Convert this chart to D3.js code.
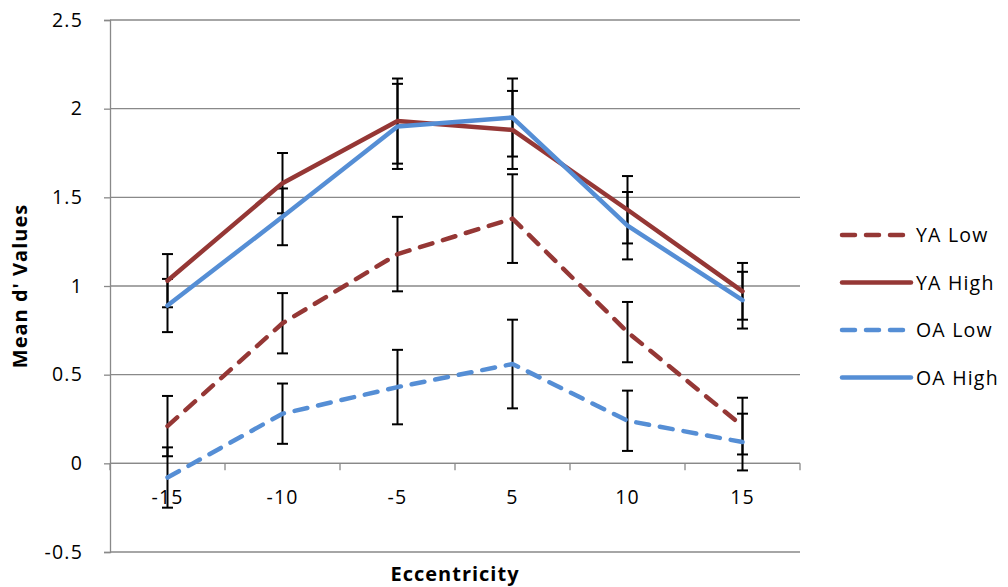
<!DOCTYPE html>
<html><head><meta charset="utf-8">
<script src="https://cdn.jsdelivr.net/npm/d3@7"></script>
<style>body{margin:0;background:#fff;} text{font-family:"Open Sans",sans-serif;}</style>
</head><body><svg id="c" width="1008" height="587"></svg>
<script>
const categories = ["-15","-10","-5","5","10","15"];
const yaLow  = [0.21, 0.79, 1.18, 1.38, 0.74, 0.21];
const yaHigh = [1.03, 1.58, 1.93, 1.88, 1.43, 0.97];
const oaLow  = [-0.08, 0.28, 0.43, 0.56, 0.24, 0.12];
const oaHigh = [0.89, 1.39, 1.90, 1.95, 1.34, 0.92];
const yaLowErr  = [0.17, 0.17, 0.21, 0.25, 0.17, 0.16];
const yaHighErr = [0.15, 0.17, 0.24, 0.22, 0.19, 0.16];
const oaLowErr  = [0.17, 0.17, 0.21, 0.25, 0.17, 0.16];
const oaHighErr = [0.15, 0.16, 0.24, 0.22, 0.19, 0.16];
const yTicks = [-0.5, 0, 0.5, 1, 1.5, 2, 2.5];
const yTickLabels = ["-0.5", "0", "0.5", "1", "1.5", "2", "2.5"];
const seriesNames = ["YA Low","YA High","OA Low","OA High"];

const red = "#953735", blue = "#558ED5";
const series = [
  {name: seriesNames[0], values: yaLow, err: yaLowErr, color: red, dashed: true},
  {name: seriesNames[1], values: yaHigh, err: yaHighErr, color: red, dashed: false},
  {name: seriesNames[2], values: oaLow, err: oaLowErr, color: blue, dashed: true},
  {name: seriesNames[3], values: oaHigh, err: oaHighErr, color: blue, dashed: false}
];

const svg = d3.select("#c");
const L = 110, R = 800, T = 20, B = 552;
const x = d3.scaleBand().domain(categories).range([L, R]);
const y = d3.scaleLinear().domain([-0.5, 2.5]).range([B, T]);
const grid = "#898989";
const FS = 19.5, LS = 1.2;

// gridlines
svg.append("g").selectAll("line").data(yTicks).join("line")
  .attr("x1", L).attr("x2", R).attr("y1", d => y(d)).attr("y2", d => y(d))
  .attr("stroke", grid).attr("stroke-width", 1.3);

// y axis
const yAxis = svg.append("g").attr("transform", `translate(${L},0)`)
  .call(d3.axisLeft(y).tickValues(yTicks).tickSize(6).tickPadding(21)
    .tickFormat((d, i) => yTickLabels[i]));
yAxis.select(".domain").attr("stroke", grid).attr("stroke-width", 1.3);
yAxis.selectAll(".tick line").attr("stroke", grid).attr("stroke-width", 1.3);
yAxis.selectAll("text").attr("font-size", FS).attr("letter-spacing", LS)
  .attr("fill", "#000").attr("font-family", "'Open Sans', sans-serif");

// x axis at y=0
const xAxisG = svg.append("g").attr("transform", `translate(0,${y(0)})`);
xAxisG.append("line").attr("x1", L).attr("x2", R).attr("stroke", grid).attr("stroke-width", 1.3);
const bounds = categories.map(c => x(c)).concat([R]);
xAxisG.selectAll("line.tk").data(bounds).join("line").attr("class","tk")
  .attr("x1", d => d).attr("x2", d => d).attr("y1", 0).attr("y2", 7)
  .attr("stroke", grid).attr("stroke-width", 1.3);
xAxisG.selectAll("text").data(categories).join("text")
  .attr("x", d => x(d) + x.bandwidth()/2).attr("y", 41)
  .attr("text-anchor", "middle").attr("font-size", FS).attr("letter-spacing", LS)
  .attr("fill", "#000").text(d => d);

// error bars
const eb = svg.append("g");
series.forEach(s => {
  s.values.forEach((v, i) => {
    const cx = x(categories[i]) + x.bandwidth()/2;
    const top = y(v + s.err[i]), bot = y(v - s.err[i]);
    eb.append("line").attr("x1", cx).attr("x2", cx).attr("y1", top).attr("y2", bot)
      .attr("stroke", "#000").attr("stroke-width", 2);
    [top, bot].forEach(yy => eb.append("line").attr("x1", cx - 5.5).attr("x2", cx + 5.5)
      .attr("y1", yy).attr("y2", yy).attr("stroke", "#000").attr("stroke-width", 2));
  });
});

// lines
const line = d3.line().x((d, i) => x(categories[i]) + x.bandwidth()/2).y(d => y(d));
series.forEach(s => {
  svg.append("path").attr("d", line(s.values)).attr("fill", "none")
    .attr("stroke", s.color).attr("stroke-width", 4.5)
    .attr("stroke-linecap", "round")
    .attr("stroke-linejoin", "round")
    .attr("stroke-dasharray", s.dashed ? "13,11" : null);
});

// legend
const lg = svg.append("g");
series.forEach((s, i) => {
  const yy = 235 + i * 47.5;
  lg.append("line").attr("x1", 842).attr("x2", 911).attr("y1", yy).attr("y2", yy)
    .attr("stroke", s.color).attr("stroke-width", 4.5).attr("stroke-linecap", "round")
    .attr("stroke-dasharray", s.dashed ? "13,11" : null);
  lg.append("text").attr("x", 916).attr("y", yy + 7).attr("font-size", FS)
    .attr("letter-spacing", LS).attr("fill", "#000").text(s.name);
});

// axis titles
svg.append("text").attr("x", 455).attr("y", 581).attr("text-anchor", "middle")
  .attr("font-size", 20).attr("font-weight", "bold").attr("letter-spacing", 1).text("Eccentricity");
svg.append("text").attr("transform", `translate(27,${(T + B)/2}) rotate(-90)`)
  .attr("text-anchor", "middle").attr("font-size", 20).attr("font-weight", "bold")
  .attr("letter-spacing", 1).text("Mean d' Values");
</script></body></html>
